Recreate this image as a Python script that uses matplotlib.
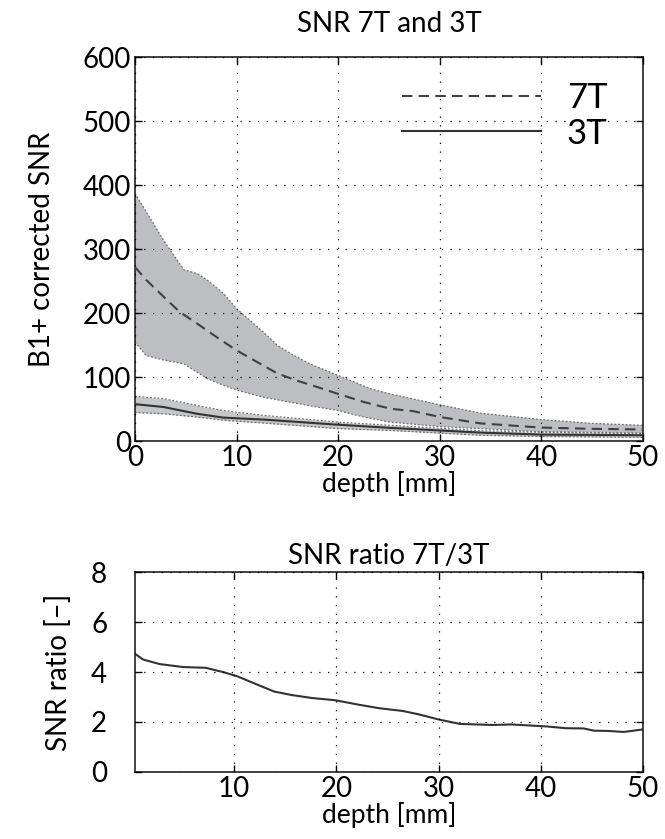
import matplotlib
matplotlib.use("Agg")
import matplotlib.pyplot as plt

plt.rcParams['font.family'] = ['Lato', 'DejaVu Sans']

# 7T mean and band (depth in mm, SNR)
d7 = [0, 1.1, 2.8, 4.4, 6.1, 8.0, 10.0, 12.0, 14.0, 15.9, 17.9, 19.9, 22.5, 25.1,
      27.4, 30.0, 34.0, 39.9, 45.0, 50.0]
snr7 = [272, 252, 226, 202, 184, 163, 142, 124, 106, 95, 85, 74.5, 61.5, 51,
        47, 38, 28, 21.5, 19.5, 18.5]

d7u = [0, 1.5, 2.8, 4.8, 6.1, 7.1, 8.7, 10.0, 11.3, 12.6, 14.0, 15.3, 17.2, 19.2,
       21.2, 23.2, 25.1, 30.0, 34.0, 39.9, 45.0, 50.0]
up7 = [387, 348, 314, 268, 262, 252, 231, 207, 189, 171, 150, 137, 121, 108,
       95, 82, 74, 57, 44, 34, 28, 25]

d7l = [0, 1.1, 2.8, 4.8, 5.8, 7.1, 8.7, 10.0, 12.6, 15.3, 17.9, 19.9, 22.5, 25.1,
       30.0, 40.0, 50.0]
lo7 = [155, 134, 127, 121, 111, 98, 87.5, 80, 69, 61, 53.6, 48.4, 38, 30,
       23, 15, 13]

# 3T mean and band
d3 = [0, 2.8, 6.1, 8.7, 12.6, 19.9, 25.1, 34.0, 40.0, 50.0]
snr3 = [58, 53.6, 43, 37, 34, 26, 21, 13.6, 10.5, 9.5]
up3 = [70, 66.7, 56, 48, 40.6, 30, 25, 16.5, 14, 12]
lo3 = [45, 43, 38, 33, 28.6, 20, 17, 9.5, 7.5, 6.3]

# ratio 7T/3T
dr = [0.3, 1.1, 2.7, 5.0, 7.2, 9.0, 10.3, 12.3, 13.9, 15.6, 17.6, 19.9, 22.2, 24.2,
      26.5, 28.1, 30.0, 32.1, 35.3, 37.1, 40.6, 42.4, 44.2, 45.2, 46.6, 48.1, 50.0]
ratio = [4.73, 4.5, 4.32, 4.2, 4.17, 3.99, 3.83, 3.49, 3.22, 3.08, 2.96, 2.87, 2.69, 2.55,
         2.44, 2.3, 2.1, 1.92, 1.88, 1.9, 1.82, 1.75, 1.74, 1.65, 1.64, 1.6, 1.7]

fig = plt.figure(figsize=(6.65, 8.39), dpi=100)
ax1 = fig.add_axes([0.203, 0.474, 0.764, 0.458])
ax2 = fig.add_axes([0.203, 0.080, 0.764, 0.238])

grid_kw = dict(color='black', linestyle=(0, (1, 6)), linewidth=0.9)
edge_kw = dict(color='#707070', linestyle=(0, (1.5, 1.5)), linewidth=0.9, zorder=2)

# bands drawn as polygons from the upper and lower curves
ax1.fill(d7u + d7l[::-1], up7 + lo7[::-1], color='#bdbec1', zorder=1, linewidth=0)
ax1.plot(d7u, up7, **edge_kw)
ax1.plot(d7l, lo7, **edge_kw)
ax1.fill_between(d3, lo3, up3, color='#c6c7c9', zorder=1, linewidth=0)
ax1.plot(d3, up3, **edge_kw)
ax1.plot(d3, lo3, **edge_kw)

ax1.plot(d7, snr7, color='#404040', linestyle=(0, (5, 3)), linewidth=1.5, label='7T', zorder=3)
ax1.plot(d3, snr3, color='#333333', linestyle='-', linewidth=1.5, label='3T', zorder=3)

ax1.set_xlim(0, 50)
ax1.set_ylim(0, 600)
ax1.set_xticks([0, 10, 20, 30, 40, 50])
ax1.set_yticks([0, 100, 200, 300, 400, 500, 600])
ax1.grid(True, **grid_kw)
ax1.set_title('SNR 7T and 3T', fontsize=20, pad=18)
ax1.set_xlabel('depth [mm]', fontsize=19, labelpad=0)
ax1.set_ylabel('B1+ corrected SNR', fontsize=20, labelpad=20)
ax1.legend(loc='upper right', frameon=False, fontsize=25, handlelength=4.0,
           handletextpad=0.75, labelspacing=0.1, borderaxespad=0, borderpad=0,
           bbox_to_anchor=(0.93, 0.935))

ax2.plot(dr, ratio, color='#333333', linewidth=1.5)
ax2.set_xlim(0.3, 50)
ax2.set_ylim(0, 8)
ax2.set_xticks([10, 20, 30, 40, 50])
ax2.set_yticks([0, 2, 4, 6, 8])
ax2.grid(True, **grid_kw)
ax2.set_title('SNR ratio 7T/3T', fontsize=20, pad=6)
ax2.set_xlabel('depth [mm]', fontsize=19, labelpad=0)
ax2.set_ylabel('SNR ratio [–]', fontsize=20, labelpad=14)

for ax in (ax1, ax2):
    ax.tick_params(direction='in', top=True, right=True, labelsize=20, length=5, width=1, pad=3)
    for s in ax.spines.values():
        s.set_linewidth(1.2)
        s.set_color('#222222')
    ax.set_axisbelow(False)
ax2.tick_params(axis='y', pad=20)

fig.savefig('out.png', dpi=100)
